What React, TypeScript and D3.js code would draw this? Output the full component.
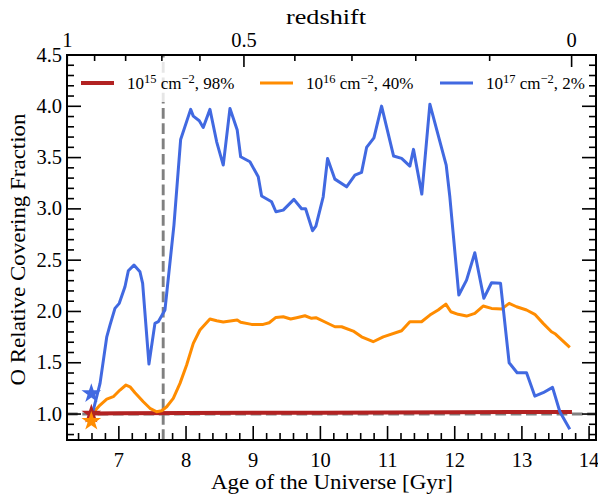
import React from "react";
import * as d3 from "d3";

// ---------- data ----------
const redAge = [6.61, 7.0, 8.0, 9.0, 10.0, 11.0, 12.0, 13.0, 13.745];
const redVal = [1.005, 1.008, 1.01, 1.012, 1.013, 1.015, 1.018, 1.02, 1.02];

const orangeAge = [6.61, 6.72, 6.82, 6.917, 7.017, 7.106, 7.166, 7.24, 7.364, 7.463, 7.563, 7.637, 7.712, 7.81, 7.91, 8.009, 8.108, 8.207, 8.356, 8.456, 8.554, 8.762, 8.813, 8.976, 9.149, 9.238, 9.338, 9.447, 9.557, 9.646, 9.77, 9.869, 9.933, 10.092, 10.216, 10.316, 10.489, 10.613, 10.786, 10.935, 11.209, 11.332, 11.506, 11.63, 11.753, 11.868, 11.942, 12.051, 12.176, 12.299, 12.423, 12.548, 12.697, 12.81, 12.92, 13.069, 13.192, 13.316, 13.44, 13.5, 13.713];
const orangeVal = [1.007, 1.088, 1.146, 1.169, 1.234, 1.283, 1.266, 1.208, 1.12, 1.056, 1.022, 1.032, 1.071, 1.153, 1.299, 1.478, 1.689, 1.819, 1.926, 1.909, 1.897, 1.916, 1.894, 1.874, 1.874, 1.89, 1.942, 1.948, 1.926, 1.939, 1.958, 1.933, 1.939, 1.89, 1.851, 1.851, 1.809, 1.753, 1.705, 1.753, 1.812, 1.9, 1.9, 1.965, 2.014, 2.072, 1.997, 1.972, 1.955, 1.981, 2.053, 2.03, 2.023, 2.079, 2.046, 2.014, 1.972, 1.884, 1.802, 1.78, 1.65];

const blueAge = [6.61, 6.72, 6.82, 6.868, 6.942, 7.006, 7.091, 7.141, 7.225, 7.314, 7.354, 7.448, 7.537, 7.587, 7.686, 7.82, 7.92, 8.069, 8.108, 8.197, 8.256, 8.356, 8.456, 8.554, 8.654, 8.762, 8.813, 8.951, 9.075, 9.125, 9.274, 9.338, 9.447, 9.606, 9.72, 9.78, 9.884, 9.933, 10.042, 10.107, 10.216, 10.39, 10.514, 10.613, 10.688, 10.797, 10.911, 11.09, 11.209, 11.332, 11.386, 11.51, 11.63, 11.873, 11.927, 12.061, 12.176, 12.299, 12.433, 12.548, 12.682, 12.81, 12.929, 13.069, 13.192, 13.316, 13.456, 13.565, 13.713];
const blueVal = [1.013, 1.299, 1.753, 1.867, 2.03, 2.079, 2.241, 2.397, 2.452, 2.387, 2.274, 1.487, 1.884, 1.9, 2.014, 2.842, 3.677, 3.97, 3.904, 3.859, 3.794, 3.97, 3.654, 3.427, 3.979, 3.768, 3.508, 3.459, 3.313, 3.125, 3.069, 2.972, 2.988, 3.093, 3.001, 3.001, 2.787, 2.832, 3.118, 3.492, 3.29, 3.215, 3.33, 3.356, 3.599, 3.693, 4.002, 3.515, 3.492, 3.417, 3.58, 3.144, 4.021, 3.427, 3.118, 2.16, 2.306, 2.572, 2.128, 2.28, 2.274, 1.5, 1.403, 1.403, 1.175, 1.208, 1.26, 1.022, 0.851];

const starAge = 6.59;
const starColors = ["#4169e1", "#b22222", "#ff8c00"];
const starVals = [1.2, 1.0, 0.93];

const seriesColors = ["#b22222", "#ff8c00", "#4169e1"];
const legendExp = ["15", "16", "17"];
const legendPct = ["98%", "40%", "2%"];

const xTicks = [7, 8, 9, 10, 11, 12, 13, 14];
const yTicks = [1.0, 1.5, 2.0, 2.5, 3.0, 3.5, 4.0, 4.5];
const zMajorLabels = ["1", "0.5", "0"];
const zMajorAges = [6.232, 8.862, 13.74];
const zMinorAges = [6.639, 7.101, 7.64, 8.207, 9.62, 10.47, 11.42, 12.52];
const vlineAge = 7.66;

// ---------- layout ----------
const W = 598, H = 494;
const L = 67, R = 596, T = 55, B = 440;
const FONT = "Liberation Serif";

export default function App() {
  const x = d3.scaleLinear().domain([6.228, 14.103]).range([L, R]);
  const y = d3.scaleLinear().domain([0.747, 4.5]).range([B, T]);
  const line = d3.line<[number, number]>().x(d => x(d[0])).y(d => y(d[1]));
  const zip = (a: number[], b: number[]) => a.map((v, i) => [v, b[i]] as [number, number]);

  const series = [zip(redAge, redVal), zip(orangeAge, orangeVal), zip(blueAge, blueVal)];
  const widths = [4, 3, 3];

  const xMinor = d3.range(6.4, 14.05, 0.2).filter(v => Math.abs(v - Math.round(v)) > 0.01);
  const yMinor = d3.range(0.8, 4.55, 0.1).filter(v => Math.abs(v * 2 - Math.round(v * 2)) > 0.01);
  const star = d3.symbol().type(d3.symbolStar).size(120);

  const MAJ = 14, MIN = 7;
  const tickStroke = { stroke: "black", strokeWidth: 1.6 };

  const legendX = [81, 260, 440];

  return (
    <svg width={W} height={H} fontFamily={FONT} style={{ position: "absolute", left: 0, top: 0, background: "white" }}>
      <style>{`text, tspan { font-family: "Liberation Serif", "Times New Roman" !important; }`}</style>
      <rect x={0} y={0} width={W} height={H} fill="white" />
      <defs>
        <clipPath id="plotclip"><rect x={L} y={T} width={R - L} height={B - T} /></clipPath>
      </defs>
      <g clipPath="url(#plotclip)">
        <line x1={L} x2={R} y1={y(1)} y2={y(1)} stroke="#808080" strokeWidth={2.9} strokeDasharray="10.7,4.6" />
        <line x1={x(vlineAge)} x2={x(vlineAge)} y1={B} y2={T} stroke="#808080" strokeWidth={2.9} strokeDasharray="10.7,4.6" />
        {series.map((s, i) => (
          <path key={i} d={line(s) || ""} fill="none" stroke={seriesColors[i]} strokeWidth={widths[i]} strokeLinejoin="round" />
        ))}
        {starVals.map((v, i) => (
          <path key={i} d={star() || ""} transform={`translate(${x(starAge)},${y(v)})`} fill={starColors[i]} />
        ))}
      </g>

      {/* legend */}
      <rect x={73} y={62} width={518} height={40} fill="white" opacity={0.8} />
      {legendX.map((lx, i) => (
        <g key={i}>
          <line x1={lx} x2={lx + 33} y1={83} y2={83} stroke={seriesColors[i]} strokeWidth={i === 0 ? 4 : 3} />
          <text x={lx + 46} y={89} fontSize={17} fontFamily={FONT}>
            10<tspan dy={-6.5} fontSize={12.5}>{legendExp[i]}</tspan>
            <tspan dy={6.5}> cm</tspan>
            <tspan dy={-6.5} fontSize={12.5}>−2</tspan>
            <tspan dy={6.5}>, {legendPct[i]}</tspan>
          </text>
        </g>
      ))}

      {xTicks.map(t => (
        <g key={t}>
          <line x1={x(t)} x2={x(t)} y1={B} y2={B - MAJ} {...tickStroke} />
          <text x={x(t)} y={467} fontSize={20.5} textAnchor="middle" fontFamily={FONT}>{t}</text>
        </g>
      ))}
      {xMinor.map((t, i) => (
        <line key={i} x1={x(t)} x2={x(t)} y1={B} y2={B - MIN} {...tickStroke} />
      ))}

      {yTicks.map(t => (
        <g key={t}>
          <line x1={L} x2={L + MAJ} y1={y(t)} y2={y(t)} {...tickStroke} />
          <line x1={R} x2={R - MAJ} y1={y(t)} y2={y(t)} {...tickStroke} />
          <text x={62} y={y(t) + 6.5} fontSize={20.5} textAnchor="end" fontFamily={FONT}>{t.toFixed(1)}</text>
        </g>
      ))}
      {yMinor.map((t, i) => (
        <g key={i}>
          <line x1={L} x2={L + MIN} y1={y(t)} y2={y(t)} {...tickStroke} />
          <line x1={R} x2={R - MIN} y1={y(t)} y2={y(t)} {...tickStroke} />
        </g>
      ))}

      {zMajorAges.map((a, i) => (
        <g key={i}>
          <line x1={x(a)} x2={x(a)} y1={T} y2={T + 12} {...tickStroke} />
          <text x={x(a)} y={47} fontSize={20.5} textAnchor="middle" fontFamily={FONT}>{zMajorLabels[i]}</text>
        </g>
      ))}
      {zMinorAges.map((a, i) => (
        <line key={i} x1={x(a)} x2={x(a)} y1={T} y2={T + 6} {...tickStroke} />
      ))}
      <text x={326} y={24} fontSize={21} textAnchor="middle" textLength={80} lengthAdjust="spacingAndGlyphs" fontFamily={FONT}>redshift</text>

      <rect x={L} y={T} width={R - L} height={B - T} fill="none" stroke="black" strokeWidth={2} />

      <text x={332} y={489} fontSize={21} textAnchor="middle" textLength={242} lengthAdjust="spacingAndGlyphs" fontFamily={FONT}>Age of the Universe [Gyr]</text>
      <text transform={`translate(25,${(T + B) / 2 + 2}) rotate(-90)`} fontSize={21} textAnchor="middle" textLength={272} lengthAdjust="spacingAndGlyphs" fontFamily={FONT}>O Relative Covering Fraction</text>
    </svg>
  );
}
